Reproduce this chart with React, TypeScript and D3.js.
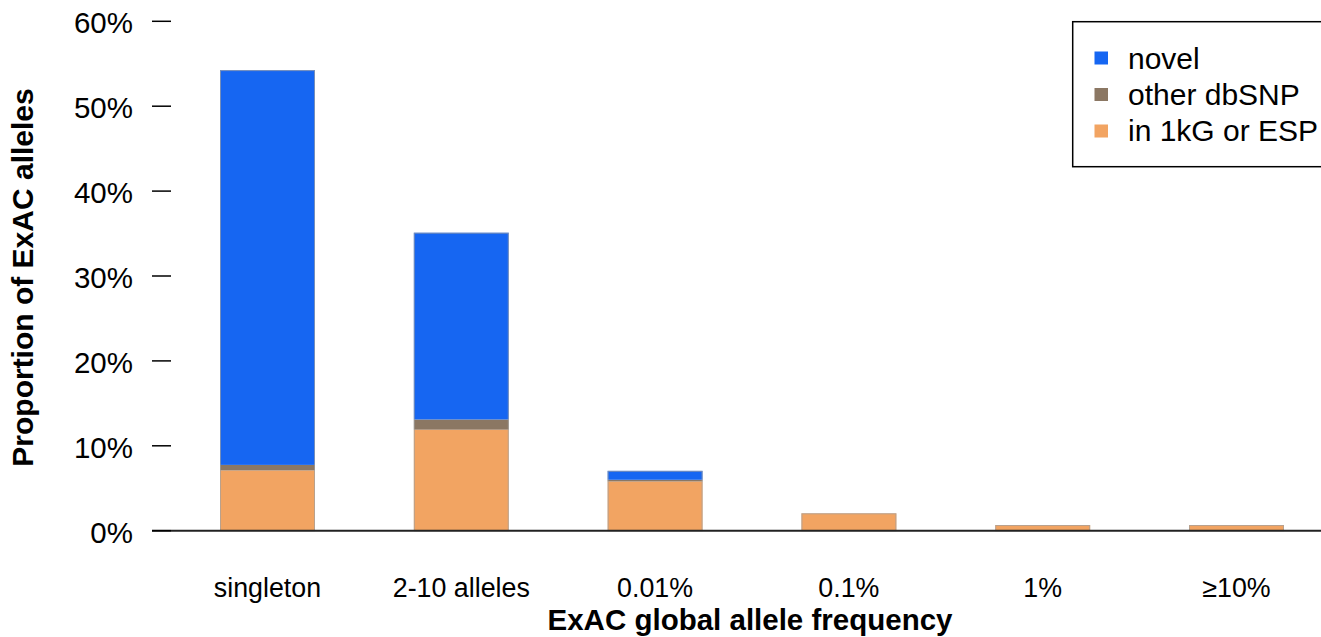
import React from "react";
import * as d3 from "d3";

const categories = ["singleton", "2-10 alleles", "0.01%", "0.1%", "1%", "≥10%"];
const inKGorESP = [7.1, 11.9, 5.8, 2.05, 0.67, 0.67];
const otherDbSNP = [0.65, 1.2, 0.2, 0, 0, 0];
const novel = [46.5, 22.0, 1.05, 0, 0, 0];
const yTicks = [0, 10, 20, 30, 40, 50, 60];
const seriesNames = ["novel", "other dbSNP", "in 1kG or ESP"];
const seriesKeys = ["inKG", "other", "novel"];

const colors: Record<string, string> = {
  novel: "#1666F2",
  other: "#8B7763",
  inKG: "#F2A462",
};
const legendColors = [colors.novel, colors.other, colors.inKG];

const W = 1321;
const H = 637;
const FONT = "'Liberation Sans', Arial, Helvetica, sans-serif";

export default function App() {
  const rows = categories.map((c, i) => ({
    cat: c,
    inKG: inKGorESP[i],
    other: otherDbSNP[i],
    novel: novel[i],
  }));
  const stack = d3.stack<any>().keys(seriesKeys)(rows);

  const x = d3
    .scaleBand<string>()
    .domain(categories)
    .range([170.6, 1333.4])
    .paddingInner(0.51)
    .paddingOuter(0.255);
  const y = d3.scaleLinear().domain([0, 60]).range([530.7, 21.3]);

  return (
    <svg
      width={W}
      height={H}
      style={{ position: "absolute", left: 0, top: 0, display: "block" }}
      fontFamily={FONT}
    >
      <rect x={0} y={0} width={W} height={H} fill="#fff" />
      {/* bars */}
      {stack.map((layer) => (
        <g key={layer.key} fill={colors[layer.key]}>
          {layer.map((d, i) =>
            d[1] - d[0] > 0 ? (
              <rect
                key={i}
                x={x(categories[i])!}
                width={x.bandwidth()}
                y={y(d[1])}
                height={y(d[0]) - y(d[1])}
              />
            ) : null
          )}
        </g>
      ))}
      {/* bar outlines */}
      {rows.map((r, i) => {
        const total = r.inKG + r.other + r.novel;
        return (
          <rect
            key={i}
            x={x(r.cat)! + 0.5}
            width={x.bandwidth() - 1}
            y={y(total) + 0.5}
            height={y(0) - y(total) - 0.5}
            fill="none"
            stroke="#a0a0a0"
            strokeOpacity={0.7}
            strokeWidth={1}
          />
        );
      })}
      {/* baseline */}
      <line x1={152} x2={W} y1={y(0)} y2={y(0)} stroke="#222" strokeWidth={2} />
      {/* y ticks */}
      {yTicks.map((t) => (
        <g key={t}>
          <line x1={152} x2={171} y1={y(t)} y2={y(t)} stroke="#000" strokeWidth={1.5} />
          <text x={133} y={y(t) + 12} textAnchor="end" fontSize={29.5} fill="#000">
            {t + "%"}
          </text>
        </g>
      ))}
      {/* x tick labels */}
      {categories.map((c) => (
        <text
          key={c}
          x={x(c)! + x.bandwidth() / 2}
          y={597}
          textAnchor="middle"
          fontSize={26.8}
          fill="#000"
        >
          {c}
        </text>
      ))}
      {/* axis titles */}
      <text
        x={750}
        y={629.5}
        textAnchor="middle"
        fontSize={29.5}
        fontWeight="bold"
        fill="#000"
      >
        ExAC global allele frequency
      </text>
      <text
        transform={`translate(33,277.5) rotate(-90)`}
        textAnchor="middle"
        fontSize={30}
        fontWeight="bold"
        fill="#000"
      >
        Proportion of ExAC alleles
      </text>
      {/* legend */}
      <rect
        x={1072.7}
        y={21.7}
        width={W - 1072.7 + 10}
        height={145}
        fill="#fff"
        stroke="#000"
        strokeWidth={1.5}
      />
      {seriesNames.map((n, i) => (
        <g key={n}>
          <rect x={1094.5} y={51.5 + i * 36.5} width={13.5} height={13} fill={legendColors[i]} />
          <text x={1128} y={69 + i * 36} fontSize={30} fill="#000">
            {n}
          </text>
        </g>
      ))}
    </svg>
  );
}
